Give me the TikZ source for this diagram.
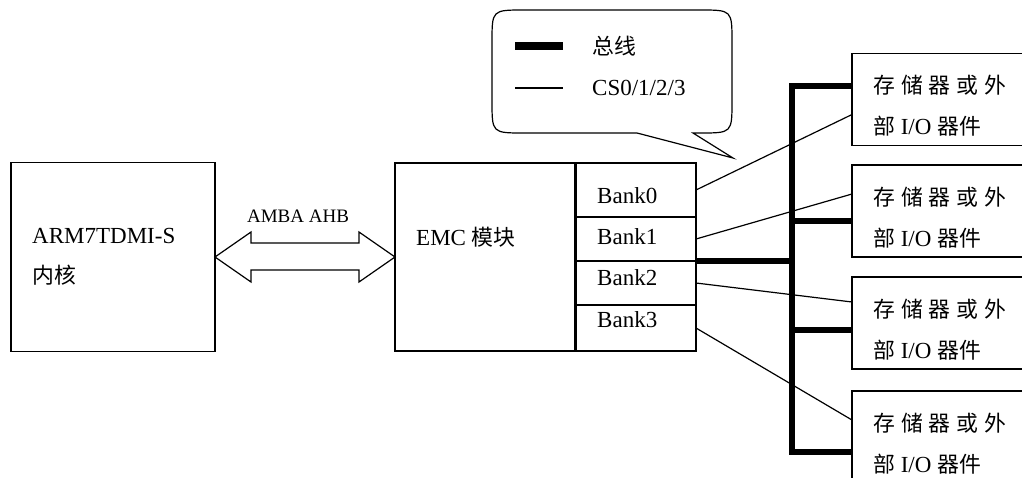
\documentclass[tikz,border=0pt]{standalone}
\usepackage{fontspec}
\setmainfont{Liberation Serif}
\newfontfamily\cjk[Scale=0.95]{Noto Sans CJK SC}
\usepackage{tikz}
\usetikzlibrary{positioning, calc}

\newcommand{\cgap}{\hspace{6pt}}

\begin{document}
\begin{tikzpicture}[x=1pt, y=-1pt,
    every node/.style={font=\fontsize{23}{40}\selectfont},
    blockbox/.style={
        rectangle, draw, line width=1.2pt,
        inner sep=0pt, outer sep=0pt,
    },
    blocktext/.style={
        anchor=west, align=left, inner sep=0pt,
    },
    devtext/.style={
        anchor=west, align=left, inner sep=0pt,
        font=\fontsize{23}{41}\selectfont,
    },
    cswire/.style={line width=1.2pt},
    buswire/.style={line width=6.5pt, line join=miter},
    linkarrow/.style={line width=1.2pt, line join=miter},
]
\useasboundingbox (0,0) rectangle (1022,477);

% ── Core and EMC ───────────────────────────────────────────────────────
\node[blockbox, minimum width=204, minimum height=189] (arm) at (113,257) {};
\node[blocktext] (armtext) at ([xshift=21pt]arm.west) {ARM7TDMI-S\\{\cjk 内核}};

\node[blockbox, minimum width=180, minimum height=188] (emc) at (485,257) {};
\node[blocktext] (emctext) at (416,237) {EMC {\cjk 模块}};

% AMBA AHB double arrow
\draw[linkarrow] (arm.east) -- ++(36,-25) -- ++(0,11) -- ++(108,0) -- ++(0,-11)
    -- (emc.west) -- ++(-36,25) -- ++(0,-12) -- ++(-108,0) -- ++(0,12) -- cycle;
\node[font=\fontsize{19}{22}\selectfont] (amba) at (298,216) {AMBA AHB};

% ── Banks ──────────────────────────────────────────────────────────────
\node[blockbox, minimum width=120, minimum height=54] (bank0) at (636,190) {};
\node[blockbox, minimum width=120, minimum height=44] (bank1) at (636,239) {};
\node[blockbox, minimum width=120, minimum height=44] (bank2) at (636,283) {};
\node[blockbox, minimum width=120, minimum height=46] (bank3) at (636,328) {};

\node[blocktext] (bank0text) at (597,196) {Bank0};
\node[blocktext] (bank1text) at (597,237) {Bank1};
\node[blocktext] (bank2text) at (597,278) {Bank2};
\node[blocktext] (bank3text) at (597,320) {Bank3};

% ── Memory / external I/O devices ──────────────────────────────────────
\foreach \i/\y in {1/99.5, 2/211, 3/323, 4/437} {
    \node[blockbox, minimum width=200, minimum height=92] (dev\i) at (952,\y) {};
    \node[devtext] (dev\i text) at ([xshift=21pt, yshift=-6.5pt]dev\i.west)
        {{\cjk 存\cgap 储\cgap 器\cgap 或\cgap 外}\\{\cjk 部} I/O {\cjk 器件}};
}

% ── Bus ────────────────────────────────────────────────────────────────
\coordinate (bus) at (792,261);
\coordinate (tap1) at ([yshift=13.5pt]dev1.west);
\coordinate (tap2) at ([yshift=-10pt]dev2.west);
\coordinate (tap3) at ([yshift=-7pt]dev3.west);
\coordinate (tap4) at ([yshift=-15pt]dev4.west);

\draw[buswire] (tap1) -| (bus) |- (tap4);
\draw[buswire] (bank2.north east) -- (bus);
\draw[buswire] (bus |- tap2) -- (tap2);
\draw[buswire] (bus |- tap3) -- (tap3);

% ── Chip selects ───────────────────────────────────────────────────────
\draw[cswire] (bank0.east) -- ([yshift=-15pt]dev1.west);
\draw[cswire] (bank1.east) -- ([yshift=17pt]dev2.west);
\draw[cswire] (bank2.east) -- ([yshift=21pt]dev3.west);
\draw[cswire] (bank3.east) -- ([yshift=17pt]dev4.west);

% ── Legend callout ─────────────────────────────────────────────────────
\coordinate (tip) at (733,158);
\draw[linkarrow] (637,133) -- (tip) -- (693,133) -- (700,133)
    .. controls (732,133) .. (732,101) -- (732,42)
    .. controls (732,10) .. (700,10) -- (524,10)
    .. controls (492,10) .. (492,42) -- (492,101)
    .. controls (492,133) .. (524,133) -- cycle;

\node[blocktext] (legbus) at (592,46) {{\cjk 总线}};
\node[blocktext] (legcs) at (592,88) {CS0/1/2/3};
\draw[line width=8pt] ([xshift=-77pt]legbus.west) -- ++(48,0);
\draw[cswire] ([xshift=-77pt]legcs.west) -- ++(48,0);

\end{tikzpicture}
\end{document}
